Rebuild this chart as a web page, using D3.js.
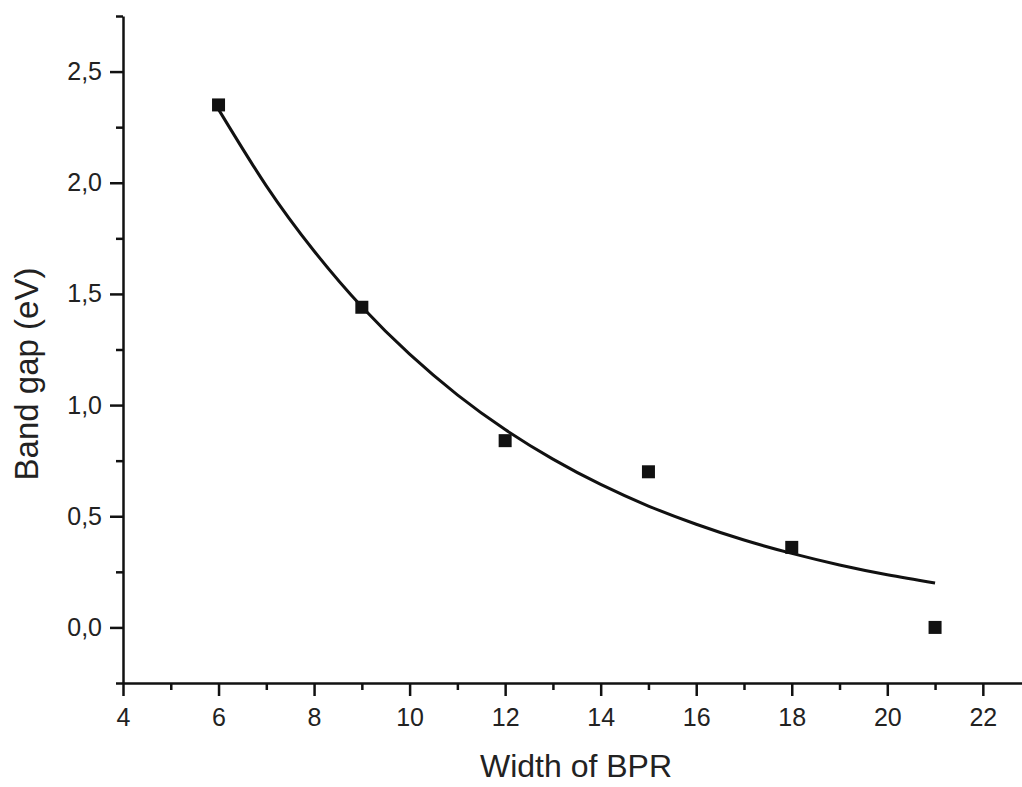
<!DOCTYPE html>
<html>
<head>
<meta charset="utf-8">
<script src="https://cdn.jsdelivr.net/npm/d3@7/dist/d3.min.js"></script>
<style>
  html, body { margin: 0; padding: 0; background: #fff; }
  svg { display: block; }
  .axis text { font-family: "Liberation Sans", Arial, sans-serif; fill: #222; }
</style>
</head>
<body>
<div id="chart"></div>
<script>
// Measured points: width of BPR vs band gap
const widths = [6, 9, 12, 15, 18, 21];
const gaps = [2.35, 1.44, 0.84, 0.70, 0.36, 0.0];

// Fitted curve
const fitX = [6, 7, 8, 9, 10, 11, 12, 13, 14, 15, 16, 17, 18, 19, 20, 21];
const fitY = [2.330, 1.986, 1.693, 1.442, 1.229, 1.046, 0.890, 0.757, 0.643, 0.546,
              0.464, 0.393, 0.333, 0.281, 0.237, 0.200];

const xMajor = [4, 6, 8, 10, 12, 14, 16, 18, 20, 22];
const xMinor = [5, 7, 9, 11, 13, 15, 17, 19, 21];
const yMajor = [0, 0.5, 1.0, 1.5, 2.0, 2.5];
const yMinor = [-0.25, 0.25, 0.75, 1.25, 1.75, 2.25, 2.75];

const W = 1022, H = 787;
const ink = '#111';
const FONT = '"Liberation Sans", Arial, sans-serif';

const svg = d3.select('#chart').append('svg')
    .attr('width', W)
    .attr('height', H);

const x = d3.scaleLinear().domain([4, 22.82]).range([123, 1022]);
const y = d3.scaleLinear().domain([-0.25, 2.75]).range([683, 16]);

const comma = d3.formatLocale({ decimal: ',', thousands: '.', grouping: [3], currency: ['', ''] }).format('.1f');

// Minor ticks first, so the major axis sits on top
svg.append('g')
    .attr('class', 'axis')
    .attr('transform', `translate(0,${y(-0.25)})`)
    .call(d3.axisBottom(x).tickValues(xMinor).tickSize(7).tickFormat(''))
    .call((g) => g.select('.domain').remove());

svg.append('g')
    .attr('class', 'axis')
    .attr('transform', `translate(${x(4)},0)`)
    .call(d3.axisLeft(y).tickValues(yMinor).tickSize(7).tickFormat(''))
    .call((g) => g.select('.domain').remove());

const xAxis = svg.append('g')
    .attr('class', 'axis')
    .attr('transform', `translate(0,${y(-0.25)})`)
    .call(d3.axisBottom(x).tickValues(xMajor).tickSize(13).tickPadding(12).tickSizeOuter(0));
xAxis.selectAll('text').attr('font-size', 25);

const yAxis = svg.append('g')
    .attr('class', 'axis')
    .attr('transform', `translate(${x(4)},0)`)
    .call(d3.axisLeft(y).tickValues(yMajor).tickSize(13).tickPadding(8).tickSizeOuter(0).tickFormat(comma));
yAxis.selectAll('text').attr('font-size', 25);

svg.selectAll('.axis path, .axis line')
    .attr('stroke', ink)
    .attr('stroke-width', 2.5);

// Axis titles
svg.append('text')
    .attr('x', 576)
    .attr('y', 777)
    .attr('text-anchor', 'middle')
    .attr('font-family', FONT)
    .attr('font-size', 32)
    .attr('fill', '#222')
    .text('Width of BPR');

svg.append('text')
    .attr('transform', 'translate(38,374) rotate(-90)')
    .attr('text-anchor', 'middle')
    .attr('font-family', FONT)
    .attr('font-size', 33)
    .attr('fill', '#222')
    .text('Band gap (eV)');

// Fit curve
const line = d3.line()
    .x((d, i) => x(fitX[i]))
    .y((d) => y(d))
    .curve(d3.curveNatural);

svg.append('path')
    .datum(fitY)
    .attr('d', line)
    .attr('fill', 'none')
    .attr('stroke', ink)
    .attr('stroke-width', 3);

// Square markers
const side = 13;
svg.append('g')
    .selectAll('rect')
    .data(gaps)
    .enter().append('rect')
    .attr('x', (d, i) => x(widths[i]) - side / 2)
    .attr('y', (d) => y(d) - side / 2)
    .attr('width', side)
    .attr('height', side)
    .attr('fill', ink);
</script>
</body>
</html>
